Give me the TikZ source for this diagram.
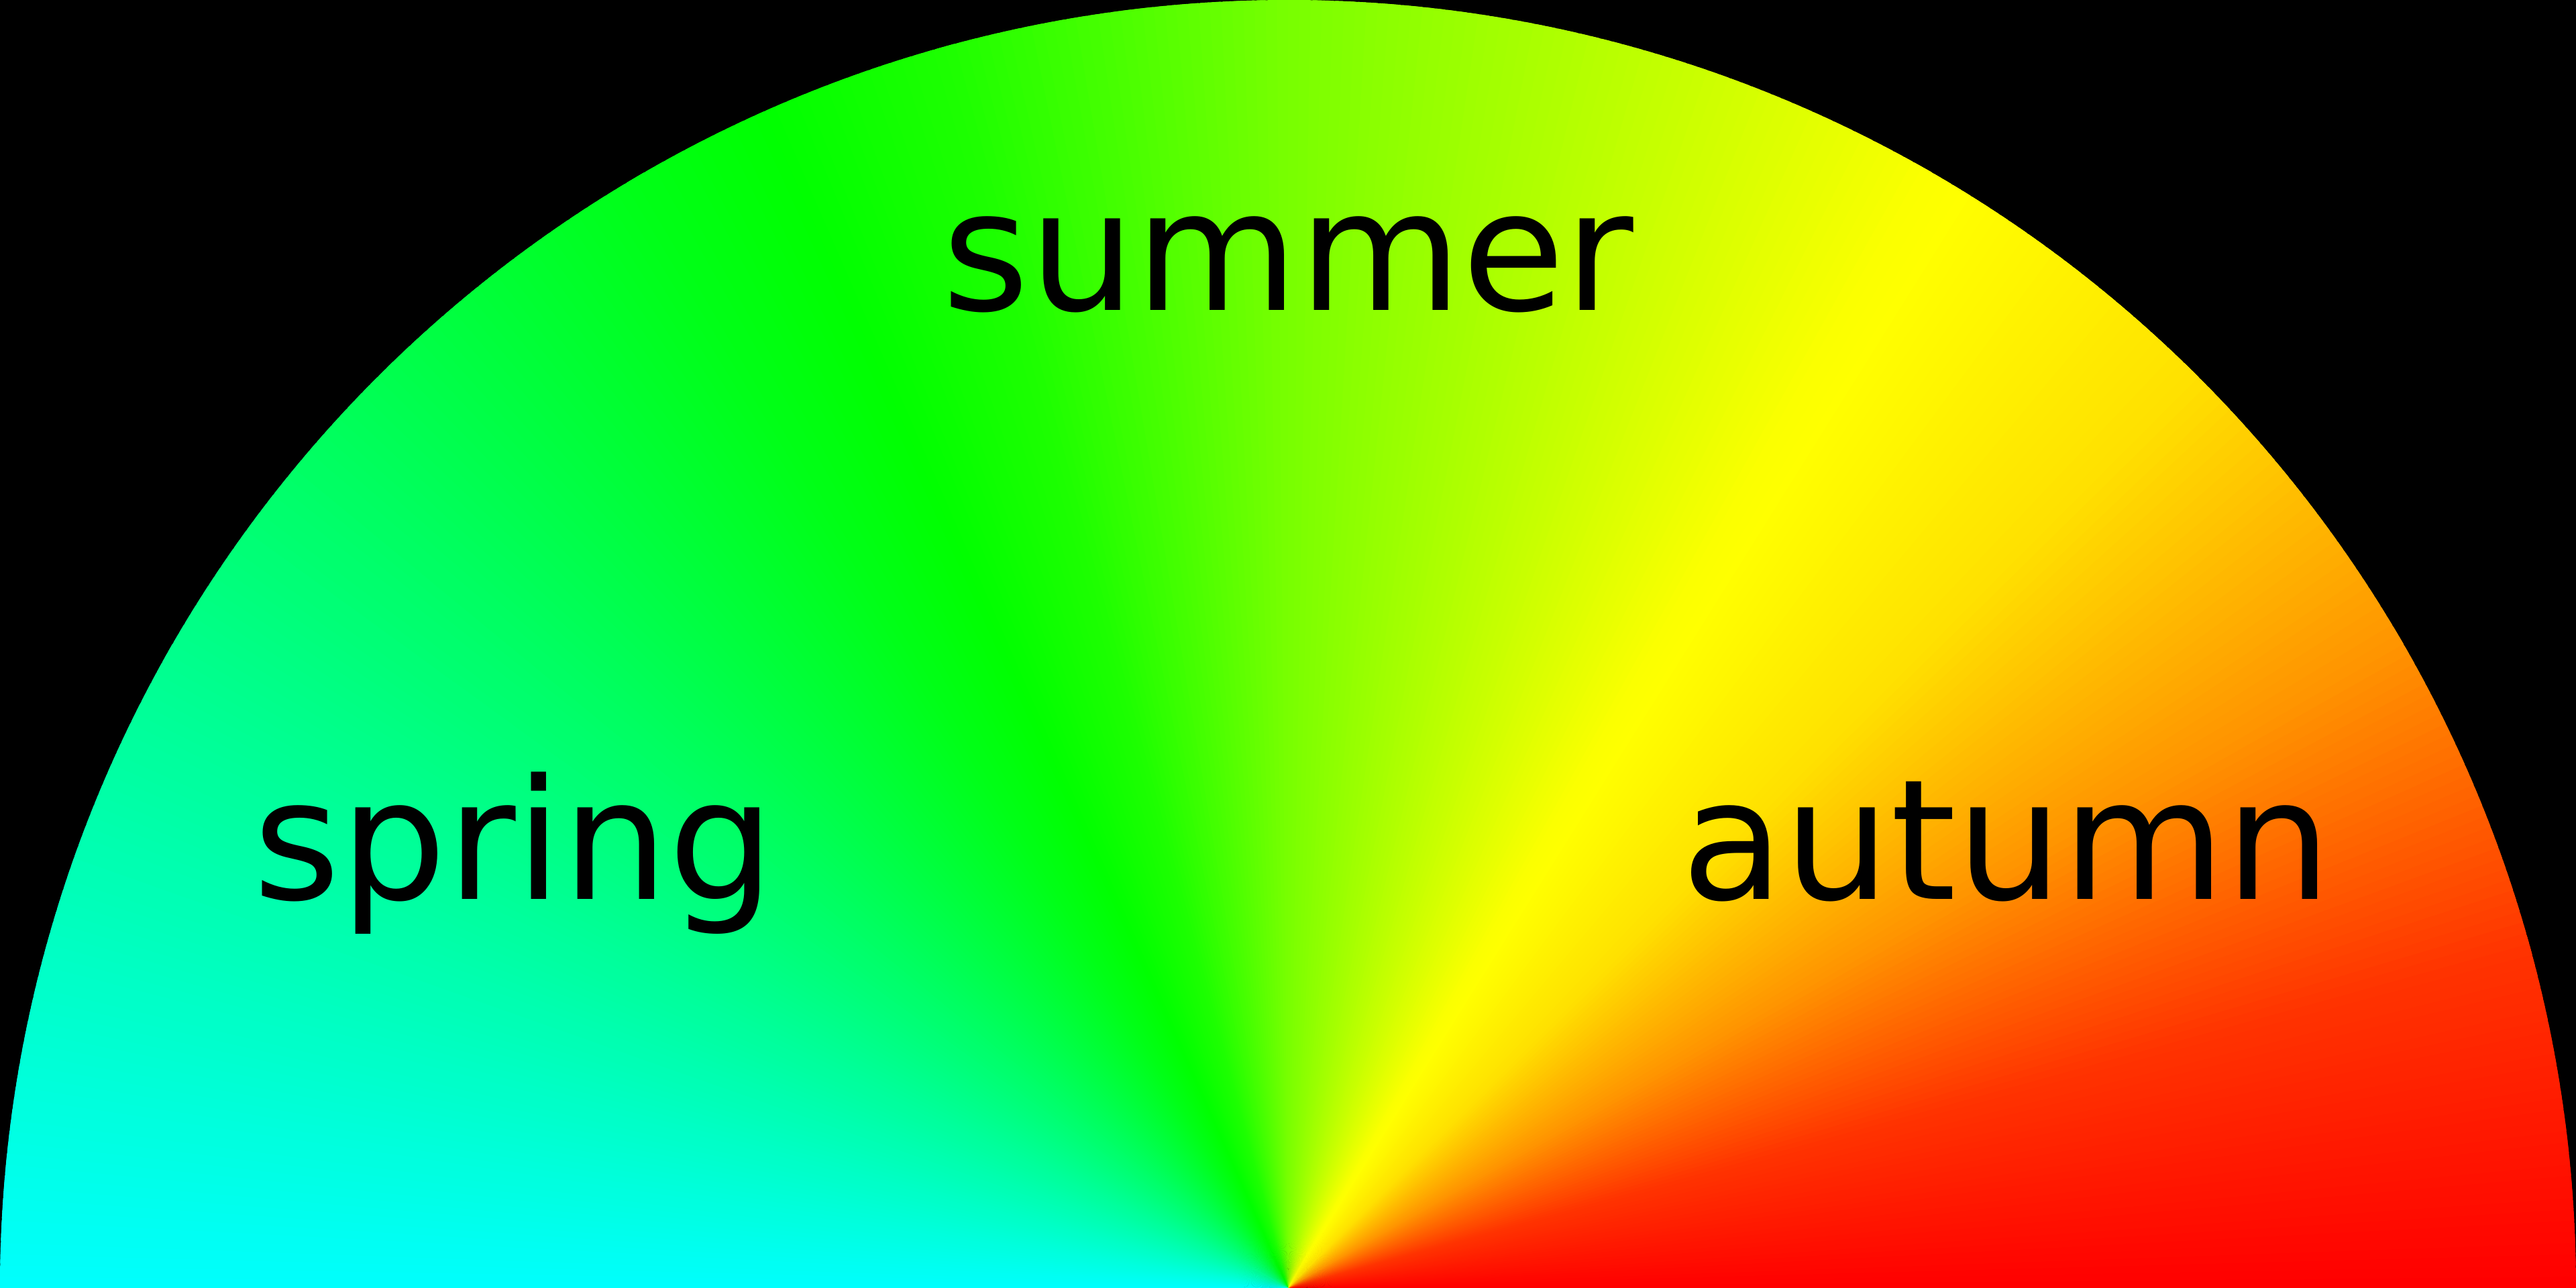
\documentclass[tikz,border=0pt]{standalone}
\usepackage{fontspec}
\setmainfont{DejaVu Sans}
\usepackage{tikz}
\usetikzlibrary{positioning}

\tikzset{season/.style={font=\fontsize{37}{44}\selectfont, anchor=base, inner sep=0pt, text=black}}

\begin{document}
\begin{tikzpicture}
  \useasboundingbox (-10,0) rectangle (10,10);
  \fill[black] (-10,0) rectangle (10,10);

  % Colour wheel: angle -> hue, piecewise
  \foreach \aa/\ha/\ab/\hb in {0/0/15/12, 15/12/30/35, 30/35/45/53, 45/53/60/61,
                               60/61/90/92, 90/92/105/113, 105/113/120/125,
                               120/125/150/153, 150/153/180/180} {
    \pgfmathsetmacro\astep{\aa+0.5}
    \foreach \a in {\aa,\astep,...,\ab} {
      \pgfmathsetmacro\h{\ha+(\a-\aa)*(\hb-\ha)/(\ab-\aa)}
      \definecolor{wedgecol}{Hsb}{\h,1,1}
      \fill[wedgecol] (0,0) -- (\a:10) arc[start angle=\a, end angle={min(\a+0.9,180)}, radius=10] -- cycle;
    }
  }

  % Seasons
  \node[season] (summer) at (0,7.59) {summer};
  \node[season] (spring) at (-6.01,3.02) {spring};
  \node[season] (autumn) at (5.58,3.02) {autumn};
\end{tikzpicture}
\end{document}
